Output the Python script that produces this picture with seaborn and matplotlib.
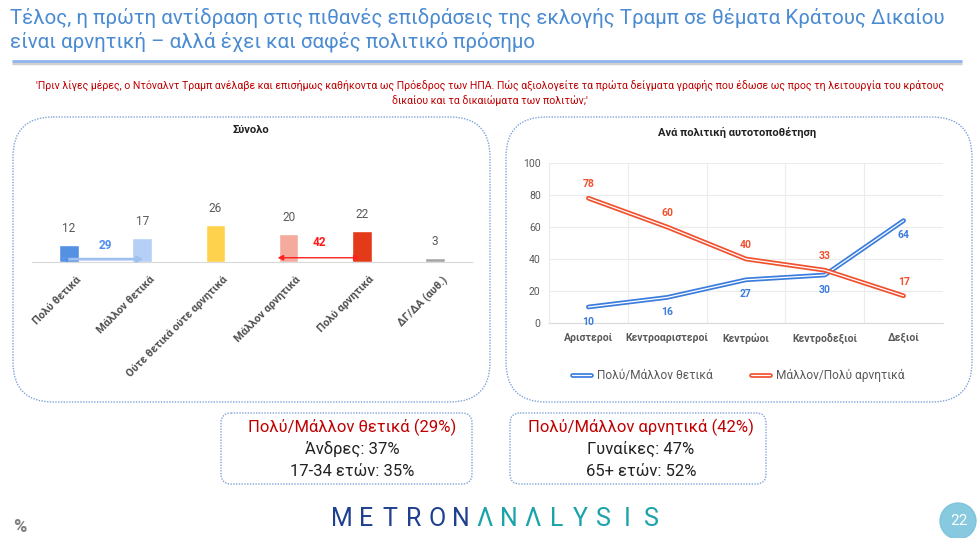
import pandas as pd
import matplotlib
matplotlib.use("Agg")
import matplotlib.pyplot as plt
import matplotlib.patheffects as pe
import matplotlib.transforms as mtransforms
from matplotlib.patches import FancyBboxPatch, Circle
from matplotlib.lines import Line2D
import seaborn as sns

# ---------------------------------
# Data
# ---------------------------------

total_labels = ["Πολύ θετικά", "Μάλλον θετικά", "Ούτε θετικά ούτε αρνητικά",
                "Μάλλον αρνητικά", "Πολύ αρνητικά", "ΔΓ/ΔΑ (αυθ.)"]
total_values = [12, 17, 26, 20, 22, 3]
total_colors = ["#5591e3", "#b5cff6", "#ffd24d", "#f4ab9d", "#e33a1a", "#a6a6a6"]

ideology = ["Αριστεροί", "Κεντροαριστεροί", "Κεντρώοι", "Κεντροδεξιοί", "Δεξιοί"]
positive = [10, 16, 27, 30, 64]
negative = [78, 60, 40, 33, 17]
series_names = ["Πολύ/Μάλλον θετικά", "Μάλλον/Πολύ αρνητικά"]
series_colors = ["#3b7ddd", "#f0512f"]

pos_box_title = "Πολύ/Μάλλον θετικά (29%)"
pos_box_lines = ["Άνδρες: 37%", "17-34 ετών: 35%"]
neg_box_title = "Πολύ/Μάλλον αρνητικά (42%)"
neg_box_lines = ["Γυναίκες: 47%", "65+ ετών: 52%"]

title = ("Τέλος, η πρώτη αντίδραση στις πιθανές επιδράσεις της εκλογής Τραμπ σε θέματα Κράτους Δικαίου\n"
         "είναι αρνητική – αλλά έχει και σαφές πολιτικό πρόσημο")
question = ("'Πριν λίγες μέρες, ο Ντόναλντ Τραμπ ανέλαβε και επισήμως καθήκοντα ως Πρόεδρος των ΗΠΑ. "
            "Πώς αξιολογείτε τα πρώτα δείγματα γραφής που έδωσε ως προς τη λειτουργία του κράτους\n"
            "δικαίου και τα δικαιώματα των πολιτών;'")

# ---------------------------------
# Figure and background layer (pixel coordinates)
# ---------------------------------

sns.set_style("white")
plt.rcParams["font.family"] = ["Roboto", "DejaVu Sans"]

fig = plt.figure(figsize=(9.8, 5.38), dpi=100)
bg = fig.add_axes([0, 0, 1, 1], zorder=0)
bg.set_xlim(0, 980)
bg.set_ylim(538, 0)
bg.axis("off")

bg.text(10, 30, title, fontsize=14.8, color="#4a8bd1", va="center", ha="left",
        linespacing=1.22)
bg.plot([12, 962], [63, 63], color="#d0d0d0", lw=2.5, solid_capstyle="butt")
bg.plot([12, 962], [61, 61], color="#8fb4ee", lw=2, solid_capstyle="butt")

bg.text(490, 93, question, fontsize=7.6, color="#c00000", ha="center", va="center",
        linespacing=1.45)

# rounded panels
for x0, y0, w, h, r in [(13, 117, 477, 285, 40), (506, 117, 466, 285, 40),
                        (221, 413, 251, 71, 10), (510, 413, 256, 71, 10)]:
    bg.add_patch(FancyBboxPatch((x0, y0), w, h, boxstyle=f"round,pad=0,rounding_size={r}",
                                fill=False, edgecolor="#7fa3d8", lw=1.0, linestyle=(0, (1, 1))))

bg.text(251, 130, "Σύνολο", fontsize=8, fontweight="bold", color="#222222", ha="center", va="center")
bg.text(737, 132, "Ανά πολιτική αυτοτοποθέτηση", fontsize=8, fontweight="bold",
        color="#222222", ha="center", va="center")

# ---------------------------------
# Bar chart (total)
# ---------------------------------

ax1 = fig.add_axes([32.4 / 980, 1 - 262 / 538, 439.2 / 980, 85 / 538], zorder=2)
ax1.patch.set_alpha(0)
sns.barplot(x=total_labels, y=total_values, hue=total_labels, palette=total_colors,
            width=0.27, legend=False, saturation=1, ax=ax1)
ax1.set_xlim(-0.5, len(total_labels) - 0.5)
ax1.set_ylim(0, 60)
for i, v in enumerate(total_values):
    ax1.annotate(f"{v}", (i, v), xytext=(0, 7), textcoords="offset points",
                 ha="center", va="bottom", fontsize=8.5, color="#595959")
ax1.set_yticks([])
ax1.set_ylabel("")
ax1.set_xlabel("")
ax1.set_xticks(range(len(total_labels)))
ax1.set_xticklabels(total_labels, rotation=45, ha="right", rotation_mode="anchor",
                    fontsize=7.8, fontweight="bold", color="#505050")
ax1.tick_params(axis="x", length=0, pad=9)
shift = mtransforms.ScaledTranslation(7 / 100, 0, fig.dpi_scale_trans)
for lab in ax1.get_xticklabels():
    lab.set_transform(lab.get_transform() + shift)
for s in ["top", "left", "right"]:
    ax1.spines[s].set_visible(False)
ax1.spines["bottom"].set_color("#d9d9d9")

# sum arrows
pos_sum = total_values[0] + total_values[1]
neg_sum = total_values[3] + total_values[4]
ax1.annotate("", xy=(1.02, 2), xytext=(-0.06, 2),
             arrowprops=dict(arrowstyle="-|>", color="#9fc0f0", lw=2, mutation_scale=8,
                             shrinkA=0, shrinkB=0), zorder=4)
ax1.plot([-0.06], [2], marker="<", color="#5591e3", markersize=3, zorder=5)
ax1.text(0.5, 11.5, f"{pos_sum}", color="#4f8ef0", fontsize=8.5, fontweight="bold",
         ha="center", va="center")
ax1.annotate("", xy=(3.97, 3), xytext=(2.85, 3),
             arrowprops=dict(arrowstyle="<|-|>", color="#ff2020", lw=1, mutation_scale=8,
                             shrinkA=0, shrinkB=0), zorder=4)
ax1.text(3.42, 13.5, f"{neg_sum}", color="#ff1a1a", fontsize=8.5, fontweight="bold",
         ha="center", va="center")

# ---------------------------------
# Line chart (by ideology)
# ---------------------------------

df_lines = pd.DataFrame({
    "group": ideology * 2,
    "value": positive + negative,
    "series": [series_names[0]] * len(ideology) + [series_names[1]] * len(ideology),
})

ax2 = fig.add_axes([549 / 980, 1 - 323 / 538, 394 / 980, 160 / 538], zorder=2)
ax2.patch.set_alpha(0)
sns.lineplot(data=df_lines, x="group", y="value", hue="series", palette=series_colors,
             sort=False, linewidth=3.4, legend=False, ax=ax2)
for line in ax2.get_lines():
    line.set_path_effects([pe.Normal(), pe.Stroke(linewidth=0.9, foreground="white")])

ax2.set_xlim(-0.5, len(ideology) - 0.5)
ax2.set_ylim(0, 100)
ax2.set_yticks(range(0, 101, 20))
ax2.set_xticks(range(len(ideology)))
ax2.set_xticklabels(ideology, fontsize=7.5, fontweight="bold", color="#595959")
ax2.set_yticklabels([str(t) for t in range(0, 101, 20)], fontsize=7.5, color="#595959")
ax2.set_xticks([i + 0.5 for i in range(len(ideology) - 1)], minor=True)
ax2.grid(axis="y", color="#ececec", lw=0.8)
ax2.grid(axis="x", which="minor", color="#ececec", lw=0.8)
ax2.grid(axis="x", which="major", visible=False)
ax2.tick_params(axis="both", which="both", length=0)
ax2.tick_params(axis="x", pad=7)
ax2.tick_params(axis="y", pad=6)
ax2.set_xlabel("")
ax2.set_ylabel("")
for s in ["top", "right"]:
    ax2.spines[s].set_visible(False)
ax2.spines["left"].set_color("#ececec")
ax2.spines["bottom"].set_color("#d9d9d9")

for i, v in enumerate(negative):
    ax2.annotate(f"{v}", (i, v), xytext=(0, 10), textcoords="offset points",
                 ha="center", va="center", fontsize=7.5, fontweight="bold", color=series_colors[1])
for i, v in enumerate(positive):
    ax2.annotate(f"{v}", (i, v), xytext=(0, -10.5), textcoords="offset points",
                 ha="center", va="center", fontsize=7.5, fontweight="bold", color=series_colors[0])

handles = [Line2D([0], [0], color=c, lw=3.4,
                  path_effects=[pe.Normal(), pe.Stroke(linewidth=0.9, foreground="white")])
           for c in series_colors]
ax2.legend(handles, series_names, loc="center", bbox_to_anchor=(0.48, -0.33), ncol=2,
           frameon=False, fontsize=8.6, labelcolor="#595959", handlelength=1.6,
           columnspacing=3.2, handletextpad=0.5)

# ---------------------------------
# Highlight boxes
# ---------------------------------

for cx, head, lines in [(352, pos_box_title, pos_box_lines), (641, neg_box_title, neg_box_lines)]:
    bg.text(cx, 427, head, fontsize=12, color="#c00000", ha="center", va="center")
    bg.text(cx, 449, lines[0], fontsize=12, color="#222222", ha="center", va="center")
    bg.text(cx, 471, lines[1], fontsize=12, color="#222222", ha="center", va="center")

# ---------------------------------
# Footer
# ---------------------------------

logo = "METRONΛNΛLYSIS"
for k, ch in enumerate(logo):
    bg.text(342 + k * 23.8, 519, ch, fontsize=18, fontweight="normal",
            color="#1f3f8f" if k < 6 else "#1aa3a8", ha="center", va="center")
bg.text(20, 527, "%", fontsize=13, fontweight="bold", color="#7f7f7f", ha="center", va="center")
bg.add_patch(Circle((958, 521), 18, color="#7ac3dc", alpha=0.9))
bg.text(959, 521, "22", fontsize=11, color="white", ha="center", va="center")

fig.savefig("out.png", dpi=100)
